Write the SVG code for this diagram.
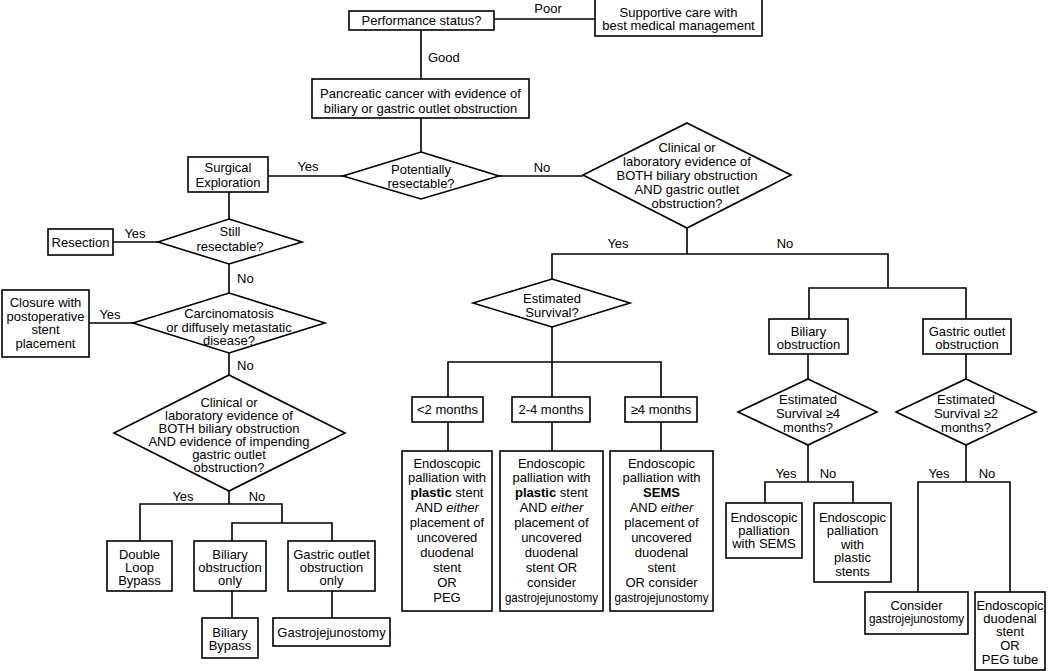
<svg xmlns="http://www.w3.org/2000/svg" width="1050" height="671" viewBox="0 0 1050 671">
<style>
.b{fill:#fff;stroke:#000;stroke-width:1.6}
.c{fill:none;stroke:#000;stroke-width:1.6}
text{font-family:"Liberation Sans",Arial,sans-serif;font-size:13px;fill:#000;text-anchor:middle}
.l{text-anchor:start}
</style>
<rect width="1050" height="671" fill="#fff"/>
<g id="connectors" class="c">
<path d="M494,19H595"/>
<path d="M421,30V79"/>
<path d="M421,118V152"/>
<path d="M343,176H268"/>
<path d="M499,176H583"/>
<path d="M229,192V219"/>
<path d="M158,242H113"/>
<path d="M229,264V293"/>
<path d="M133,323H89"/>
<path d="M229,353V375"/>
<path d="M229,491V504M140,541V504H282V523M232,541V523H332V541"/>
<path d="M232,591V618M332,591V618"/>
<path d="M687,228V254M552,279V254H888V288M809,319V288H966V319"/>
<path d="M552,327V397M448,397V362H661V397"/>
<path d="M448,422V451M552,422V451M661,422V451"/>
<path d="M808,354V379M808,445V482M765,503V482H853V503"/>
<path d="M966,354V379M966,445V482M918,592V482H1010V592"/>
</g>
<g id="labels">
<text x="548" y="13">Poor</text>
<text class="l" x="428" y="62">Good</text>
<text x="308" y="171">Yes</text>
<text x="542" y="172">No</text>
<text x="135" y="238">Yes</text>
<text class="l" x="237" y="283">No</text>
<text x="110" y="319">Yes</text>
<text class="l" x="237" y="370">No</text>
<text x="183" y="501">Yes</text>
<text x="257" y="501">No</text>
<text x="618" y="248">Yes</text>
<text x="785" y="248">No</text>
<text x="786" y="478">Yes</text>
<text x="828" y="478">No</text>
<text x="939" y="478">Yes</text>
<text x="987" y="478">No</text>
</g>
<g id="performance"><rect class="b" x="349" y="11" width="145" height="19"/><text x="421.5" y="25">Performance status?</text></g>
<g id="supportive"><rect class="b" x="595" y="-1" width="167" height="37"/><text x="678.5" y="16.5">Supportive care with</text><text x="678.5" y="29.5">best medical management</text></g>
<g id="pancreatic"><rect class="b" x="312" y="79" width="217" height="39"/><text x="420.5" y="97.5">Pancreatic cancer with evidence of</text><text x="420.5" y="112.5">biliary or gastric outlet obstruction</text></g>
<g id="potentially"><polygon class="b" points="421,152 499,176 421,199 343,176"/><text x="421" y="173.5">Potentially</text><text x="421" y="187.5">resectable?</text></g>
<g id="clinical-right"><polygon class="b" points="687,123 791,175 687,228 583,175"/><text x="687" y="151.5">Clinical or</text><text x="687" y="165.5">laboratory evidence of</text><text x="687" y="179.5">BOTH biliary obstruction</text><text x="687" y="193.5">AND gastric outlet</text><text x="687" y="207.5">obstruction?</text></g>
<g id="surgical"><rect class="b" x="188" y="157" width="80" height="35"/><text x="228" y="171.5">Surgical</text><text x="228" y="186.5">Exploration</text></g>
<g id="still"><polygon class="b" points="229,219 302,242 229,264 158,242"/><text x="230" y="235.5">Still</text><text x="230" y="250.5">resectable?</text></g>
<g id="resection"><rect class="b" x="48" y="229" width="65" height="26"/><text x="80.5" y="246.5">Resection</text></g>
<g id="carcinomatosis"><polygon class="b" points="229,293 325,323 229,353 133,323"/><text x="229" y="317.5">Carcinomatosis</text><text x="229" y="331.5">or diffusely metastatic</text><text x="229" y="344.5">disease?</text></g>
<g id="closure"><rect class="b" x="2" y="290" width="87" height="67"/><text x="45.5" y="306.5">Closure with</text><text x="45.5" y="320.5">postoperative</text><text x="45.5" y="333.5">stent</text><text x="45.5" y="347.5">placement</text></g>
<g id="clinical-left"><polygon class="b" points="229,375 345,433 229,491 114,433"/><text x="229" y="407">Clinical or</text><text x="229" y="420">laboratory evidence of</text><text x="229" y="433">BOTH biliary obstruction</text><text x="229" y="446">AND evidence of impending</text><text x="229" y="459">gastric outlet</text><text x="229" y="472">obstruction?</text></g>
<g id="doubleloop"><rect class="b" x="107" y="541" width="65" height="50"/><text x="139.5" y="558.5">Double</text><text x="139.5" y="571.5">Loop</text><text x="139.5" y="584.5">Bypass</text></g>
<g id="biliaryonly"><rect class="b" x="194" y="541" width="72" height="50"/><text x="230" y="558.5">Biliary</text><text x="230" y="571.5">obstruction</text><text x="230" y="584.5">only</text></g>
<g id="gastriconly"><rect class="b" x="288" y="541" width="87" height="50"/><text x="331.5" y="558.5">Gastric outlet</text><text x="331.5" y="571.5">obstruction</text><text x="331.5" y="584.5">only</text></g>
<g id="biliarybypass"><rect class="b" x="202" y="618" width="56" height="40"/><text x="230" y="636.5">Biliary</text><text x="230" y="649.5">Bypass</text></g>
<g id="gastrojejunostomy"><rect class="b" x="273" y="618" width="117" height="28"/><text x="331.5" y="637">Gastrojejunostomy</text></g>
<g id="survival"><polygon class="b" points="552,279 630,303 552,327 473,303"/><text x="552" y="302.5">Estimated</text><text x="552" y="316.5">Survival?</text></g>
<g id="lt2"><rect class="b" x="412" y="397" width="71" height="25"/><text x="447.5" y="414">&lt;2 months</text></g>
<g id="m24"><rect class="b" x="512" y="397" width="78" height="25"/><text x="551" y="414">2-4 months</text></g>
<g id="ge4"><rect class="b" x="625" y="397" width="72" height="25"/><text x="661" y="414">≥4 months</text></g>
<g id="endo1"><rect class="b" x="402" y="451" width="90" height="160"/>
<text x="447" y="467.5">Endoscopic</text><text x="447" y="482.4">palliation with</text><text x="447" y="497.3"><tspan font-weight="bold">plastic</tspan> stent</text><text x="447" y="512.2">AND <tspan font-style="italic">either</tspan></text><text x="447" y="527.1">placement of</text><text x="447" y="542">uncovered</text><text x="447" y="556.9">duodenal</text><text x="447" y="571.8">stent</text><text x="447" y="586.7">OR</text><text x="447" y="601.6">PEG</text></g>
<g id="endo2"><rect class="b" x="500" y="451" width="103" height="160"/>
<text x="551.5" y="467.5">Endoscopic</text><text x="551.5" y="482.4">palliation with</text><text x="551.5" y="497.3"><tspan font-weight="bold">plastic</tspan> stent</text><text x="551.5" y="512.2">AND <tspan font-style="italic">either</tspan></text><text x="551.5" y="527.1">placement of</text><text x="551.5" y="542">uncovered</text><text x="551.5" y="556.9">duodenal</text><text x="551.5" y="571.8">stent OR</text><text x="551.5" y="586.7">consider</text><text x="551.5" y="601.6" textLength="93" lengthAdjust="spacingAndGlyphs">gastrojejunostomy</text></g>
<g id="endo3"><rect class="b" x="610" y="451" width="103" height="160"/>
<text x="661.5" y="467.5">Endoscopic</text><text x="661.5" y="482.4">palliation with</text><text x="661.5" y="497.3" font-weight="bold">SEMS</text><text x="661.5" y="512.2">AND <tspan font-style="italic">either</tspan></text><text x="661.5" y="527.1">placement of</text><text x="661.5" y="542">uncovered</text><text x="661.5" y="556.9">duodenal</text><text x="661.5" y="571.8">stent</text><text x="661.5" y="586.7">OR consider</text><text x="661.5" y="601.6" textLength="94" lengthAdjust="spacingAndGlyphs">gastrojejunostomy</text></g>
<g id="biliaryobs"><rect class="b" x="769" y="319" width="79" height="35"/><text x="808.5" y="335.5">Biliary</text><text x="808.5" y="348.5">obstruction</text></g>
<g id="gastricobs"><rect class="b" x="923" y="319" width="88" height="35"/><text x="967" y="335.5">Gastric outlet</text><text x="967" y="348.5">obstruction</text></g>
<g id="surv4"><polygon class="b" points="808,379 877,412 808,445 738,412"/><text x="808" y="403.5">Estimated</text><text x="808" y="417.5">Survival ≥4</text><text x="808" y="431.5">months?</text></g>
<g id="surv2"><polygon class="b" points="966,379 1036,412 966,445 896,412"/><text x="966" y="403.5">Estimated</text><text x="966" y="417.5">Survival ≥2</text><text x="966" y="431.5">months?</text></g>
<g id="sems"><rect class="b" x="726" y="503" width="76" height="55"/><text x="764" y="521.5">Endoscopic</text><text x="764" y="534.5">palliation</text><text x="764" y="547.5">with SEMS</text></g>
<g id="plasticstents"><rect class="b" x="814" y="503" width="77" height="79"/><text x="852.5" y="521.5">Endoscopic</text><text x="852.5" y="535">palliation</text><text x="852.5" y="548.5">with</text><text x="852.5" y="562">plastic</text><text x="852.5" y="575.5">stents</text></g>
<g id="consider"><rect class="b" x="865" y="592" width="103" height="42"/><text x="916.5" y="609.5">Consider</text><text x="916.5" y="622.5" textLength="95" lengthAdjust="spacingAndGlyphs">gastrojejunostomy</text></g>
<g id="duodenal"><rect class="b" x="975" y="592" width="70" height="78"/><text x="1010" y="609.5">Endoscopic</text><text x="1010" y="622.5">duodenal</text><text x="1010" y="636">stent</text><text x="1010" y="649.5">OR</text><text x="1010" y="663.5">PEG tube</text></g>
</svg>
